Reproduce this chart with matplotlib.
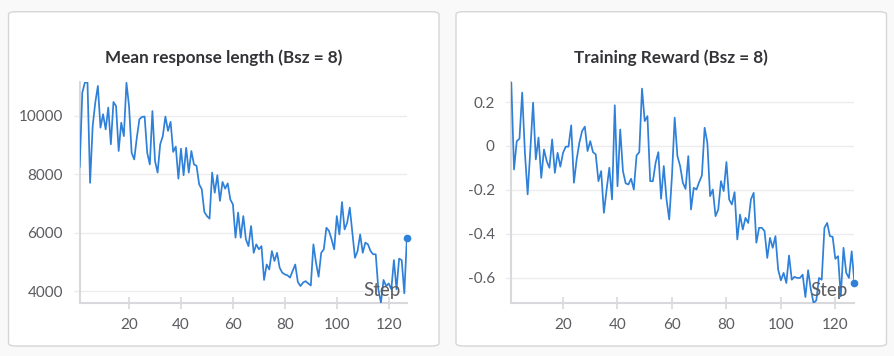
import matplotlib
matplotlib.use("Agg")
import matplotlib.pyplot as plt
from matplotlib.patches import FancyBboxPatch
import numpy as np

plt.rcParams['font.family'] = ['Lato', 'DejaVu Sans']
plt.rcParams['axes.unicode_minus'] = False

# ---------------- data ----------------
steps = list(range(1, 128))

response_length = [
    8260, 10800, 11150, 11150, 7710, 9660, 10460, 11030, 9600, 10060,
    9540, 10290, 9030, 10480, 10340, 8800, 9770, 9310, 11140, 10340,
    8740, 8510, 9260, 9890, 9970, 9980, 8740, 8340, 10170, 8460,
    8060, 9030, 9310, 9980, 9490, 9800, 8770, 8950, 7850, 8880,
    7970, 8910, 8060, 8800, 8340, 8290, 7660, 7490, 6710, 6570,
    6480, 8060, 7370, 7970, 7090, 7740, 7510, 7690, 7140, 6970,
    5830, 6690, 5830, 6570, 5770, 5540, 6230, 5310, 5600, 5430,
    5540, 4380, 4910, 4740, 5370, 5030, 5310, 4800, 4630, 4570,
    4540, 4460, 4690, 4910, 4310, 4170, 4290, 4340, 4260, 4190,
    5600, 4970, 4490, 5310, 5430, 6170, 6060, 5770, 5430, 6570,
    5940, 7050, 6110, 6340, 6860, 6000, 5140, 5370, 5940, 5310,
    5660, 5600, 5370, 5260, 5260, 4060, 3600, 4380, 4170, 4260,
    4060, 5060, 4060, 5110, 5060, 3920, 5830,
]

training_reward = [
    0.288, -0.107, 0.022, 0.033, 0.243, -0.031, -0.220, -0.016, 0.197, -0.061,
    0.038, -0.145, -0.016, -0.069, -0.099, 0.030, -0.122, -0.031, -0.094, -0.031,
    -0.003, -0.003, 0.094, -0.167, -0.061, 0.015, 0.068, 0.088, -0.023, 0.022,
    -0.028, -0.038, -0.160, -0.114, -0.304, -0.198, -0.099, -0.243, 0.185, -0.183,
    0.075, -0.114, -0.170, -0.175, -0.149, -0.198, -0.043, -0.028, 0.261, 0.113,
    0.136, -0.160, -0.160, -0.076, -0.028, -0.240, -0.091, -0.243, -0.334, -0.137,
    0.129, -0.046, -0.091, -0.167, -0.195, -0.046, -0.289, -0.190, -0.198, -0.164,
    -0.134, 0.083, 0.015, -0.228, -0.198, -0.319, -0.289, -0.160, -0.205, -0.073,
    -0.243, -0.266, -0.210, -0.425, -0.312, -0.380, -0.327, -0.350, -0.243, -0.213,
    -0.440, -0.372, -0.372, -0.387, -0.509, -0.418, -0.463, -0.410, -0.562, -0.611,
    -0.577, -0.623, -0.498, -0.608, -0.595, -0.600, -0.600, -0.585, -0.687, -0.565,
    -0.653, -0.714, -0.702, -0.600, -0.608, -0.372, -0.350, -0.410, -0.413, -0.513,
    -0.501, -0.684, -0.463, -0.577, -0.600, -0.479, -0.623,
]

titles = ["Mean response length (Bsz = 8)", "Training Reward (Bsz = 8)"]
x_ticks = [20, 40, 60, 80, 100, 120]
left_yticks = [4000, 6000, 8000, 10000]
left_ylabels = ["4000", "6000", "8000", "10000"]
right_yticks = [-0.6, -0.4, -0.2, 0, 0.2]
right_ylabels = ["-0.6", "-0.4", "-0.2", "0", "0.2"]

# ---------------- layout ----------------
W, H = 895, 356
fig = plt.figure(figsize=(W / 100, H / 100), dpi=100)
fig.patch.set_facecolor('#f9f9fa')

def px_box(x0, y0, x1, y1):
    return [x0 / W, 1 - y1 / H, (x1 - x0) / W, (y1 - y0) / H]

# panels
for (x0, y0, x1, y1) in [(8.5, 11.7, 439, 346), (456, 11.7, 886.5, 346)]:
    b = px_box(x0, y0, x1, y1)
    p = FancyBboxPatch((b[0], b[1]), b[2], b[3],
                       boxstyle="round,pad=0,rounding_size=0.008",
                       transform=fig.transFigure, facecolor='white',
                       edgecolor='#d6d6d9', linewidth=1.0, zorder=-5)
    fig.patches.append(p)

line_color = '#2e80d8'
grid_color = '#ececee'
spine_color = '#d9d9dd'
text_color = '#5b5b60'

specs = [
    dict(box=(79.7, 82, 406.9, 303), data=response_length,
         ylim=(3590, 11165), yt=left_yticks, yl=left_ylabels,
         title_x=(8.5 + 439) / 2),
    dict(box=(511.3, 82, 854.4, 303), data=training_reward,
         ylim=(-0.714, 0.291), yt=right_yticks, yl=right_ylabels,
         title_x=(456 + 886.5) / 2),
]

for i, s in enumerate(specs):
    ax = fig.add_axes(px_box(*s['box']))
    ax.set_zorder(5)
    ax.set_facecolor('none')
    ax.plot(steps, s['data'], color=line_color, linewidth=1.25, zorder=3,
            clip_on=True)
    ax.plot([steps[-1]], [s['data'][-1]], 'o', color=line_color,
            markersize=4.5, zorder=4, clip_on=False)
    ax.set_xlim(1, 127)
    ax.set_ylim(*s['ylim'])
    ax.set_xticks(x_ticks)
    ax.set_xticklabels([str(t) for t in x_ticks])
    ax.set_yticks(s['yt'])
    ax.set_yticklabels(s['yl'])
    ax.grid(axis='y', color=grid_color, linewidth=1.0, zorder=0)
    for sp in ['top', 'right']:
        ax.spines[sp].set_visible(False)
    for sp in ['left', 'bottom']:
        ax.spines[sp].set_color(spine_color)
        ax.spines[sp].set_linewidth(1.5)
    ax.tick_params(axis='x', direction='inout', length=9, width=1.2,
                   color=spine_color, labelcolor=text_color, labelsize=11,
                   pad=6)
    ax.tick_params(axis='y', direction='out', length=4, width=1.0,
                   color=grid_color, labelcolor=text_color, labelsize=11,
                   pad=8)
    ax.text(0.98, 0.055, "Step", transform=ax.transAxes, ha='right',
            va='center', color=text_color, fontsize=13.5, zorder=5)
    fig.text(s['title_x'] / W, 1 - 58 / H, titles[i], ha='center',
             va='center', fontsize=12.3, fontweight='bold', color='#333338',
             zorder=6)

fig.savefig('out.png', dpi=100, facecolor=fig.get_facecolor())
